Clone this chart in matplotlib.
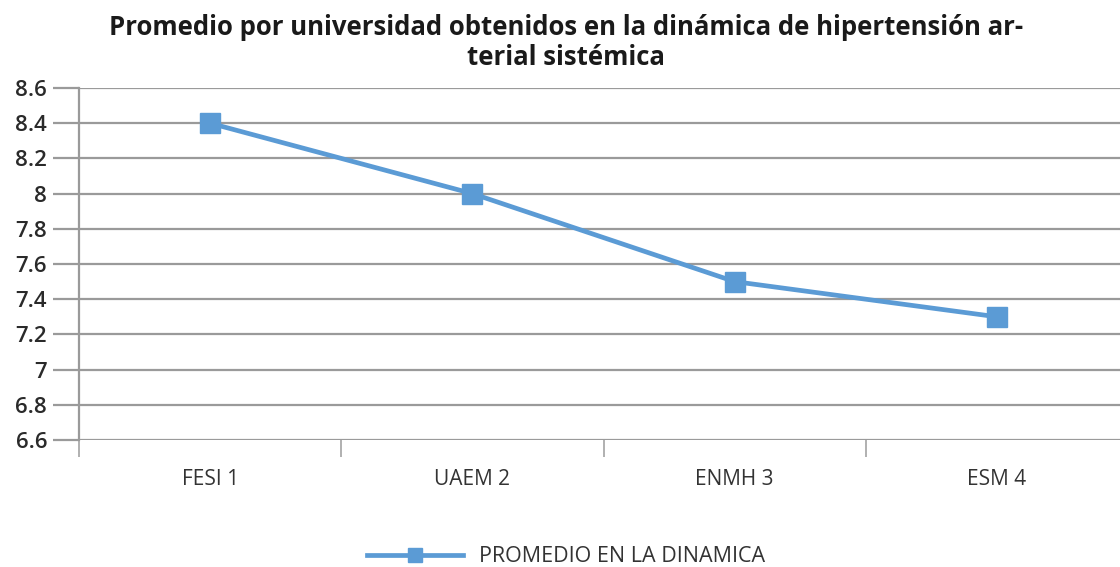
import numpy as np
import matplotlib.pyplot as plt
from matplotlib.ticker import FuncFormatter

universidades = ['FESI 1', 'UAEM 2', 'ENMH 3', 'ESM 4']
promedios = [8.4, 8.0, 7.5, 7.3]
serie = 'PROMEDIO EN LA DINAMICA'
titulo = 'Promedio por universidad obtenidos en la dinámica de hipertensión ar-\nterial sistémica'

plt.rcParams['font.family'] = ['Open Sans', 'DejaVu Sans']
color = '#5B9BD5'

fig = plt.figure(figsize=(11.2, 5.67), dpi=100)
ax = fig.add_axes([79 / 1120, 1 - 440 / 567, 1049 / 1120, 352 / 567])

x = np.arange(len(universidades))
ax.plot(x, promedios, color=color, linewidth=3.4, marker='s', markersize=15,
        markerfacecolor=color, markeredgecolor=color, label=serie, zorder=3)

ax.set_xlim(-0.5, len(universidades) - 0.5)
ax.set_ylim(6.6, 8.6)
ax.set_yticks(np.arange(6.6, 8.61, 0.2))
ax.yaxis.set_major_formatter(FuncFormatter(lambda v, p: f'{v:g}'))
ax.set_xticks(x)
ax.set_xticklabels(universidades)
ax.set_xticks(np.arange(-0.5, len(universidades)), minor=True)

ax.grid(axis='y', color='#9a9a9a', linewidth=1.6)
ax.set_axisbelow(True)
for s in ['top', 'right']:
    ax.spines[s].set_visible(False)
ax.spines['bottom'].set_visible(False)
ax.spines['left'].set_color('#9a9a9a')
ax.spines['left'].set_linewidth(1.6)

ax.tick_params(axis='y', length=19, width=1.6, color='#9a9a9a', labelsize=16,
               labelcolor='#2a2a2a', pad=4)
for t in ax.get_yticklabels():
    t.set_fontweight('semibold')
ax.tick_params(axis='x', which='major', length=0, labelsize=15, labelcolor='#333333', pad=21)
ax.tick_params(axis='x', which='minor', length=12, width=1.4, color='#b0b0b0')

fig.text(0.505, 0.975, titulo, ha='center', va='top', fontsize=18.5, fontweight='bold',
         color='#1a1a1a', linespacing=1.12)

fig.legend(loc='lower center', bbox_to_anchor=(0.505, -0.035), frameon=False, fontsize=15.5,
           handlelength=4.5, handletextpad=0.7, markerscale=0.7, labelcolor='#333333')

fig.savefig('out.png', dpi=100)
